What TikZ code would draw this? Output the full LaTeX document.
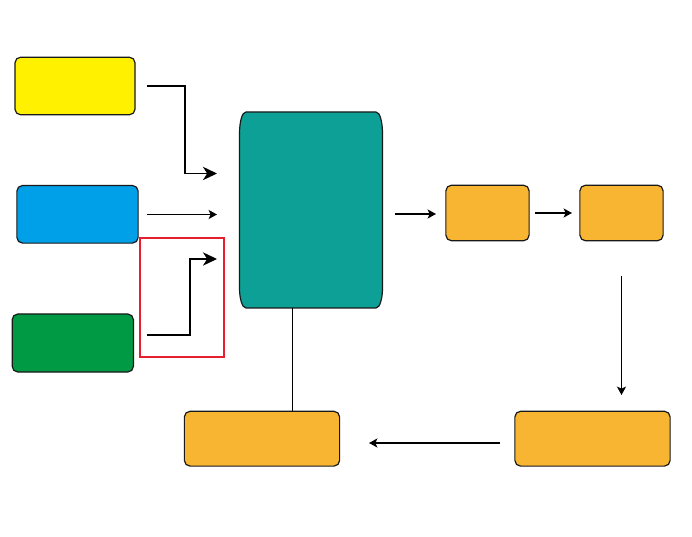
\documentclass[tikz,border=0pt]{standalone}
\usepackage{tikz}
\usetikzlibrary{arrows.meta}

\definecolor{boxyellow}{RGB}{255,241,0}
\definecolor{boxblue}{RGB}{0,160,233}
\definecolor{boxgreen}{RGB}{0,153,68}
\definecolor{boxteal}{RGB}{13,160,150}
\definecolor{boxorange}{RGB}{248,181,50}
\definecolor{framered}{RGB}{230,30,45}

\tikzset{
  stage/.style={draw=black!90,line width=0.85pt,rounded corners=4pt,inner sep=0pt},
  link/.style={line width=0.85pt,-{Stealth[length=6pt,width=6.5pt,inset=1.5pt]}},
  biglink/.style={line width=0.85pt,-{Stealth[length=10pt,width=9.5pt,inset=3pt]}}
}

\begin{document}
\begin{tikzpicture}[x=0.025cm,y=-0.025cm]
\useasboundingbox (0,0) rectangle (692,537);
% input boxes
\node[stage,fill=boxyellow,minimum width=3cm,minimum height=1.44cm] (yellowbox) at (75,86) {};
\node[stage,fill=boxblue,minimum width=3.03cm,minimum height=1.44cm] (bluebox) at (77.5,214.3) {};
\node[stage,fill=boxgreen,minimum width=3.03cm,minimum height=1.45cm] (greenbox) at (72.8,343) {};
% middle box
\draw[draw=black!90,line width=0.85pt,fill=boxteal] (246,112) -- (376,112)
  .. controls (380,112) and (382.5,122) .. (382.5,134) -- (382.5,288)
  .. controls (382.5,298) and (380,308) .. (376,308) -- (246,308)
  .. controls (242,308) and (239.5,298) .. (239.5,288) -- (239.5,134)
  .. controls (239.5,122) and (242,112) .. (246,112) -- cycle;
% output boxes
\node[stage,fill=boxorange,minimum width=2.08cm,minimum height=1.39cm] (outa) at (487.5,213) {};
\node[stage,fill=boxorange,minimum width=2.08cm,minimum height=1.39cm] (outb) at (621.5,213) {};
\node[stage,fill=boxorange,minimum width=3.88cm,minimum height=1.37cm] (outc) at (592.5,438.7) {};
\node[stage,fill=boxorange,minimum width=3.88cm,minimum height=1.37cm] (outd) at (262,438.7) {};
% red frame
\draw[framered,line width=1pt] (140,238) rectangle (224,357);
% free ends of the arrows
\coordinate (ya) at (147,86);
\coordinate (yb) at (217,173.5);
\coordinate (ba) at (147,214.5);
\coordinate (bb) at (217,214.5);
\coordinate (ga) at (147,335);
\coordinate (gb) at (217,259);
\coordinate (ma) at (395,214);
\coordinate (mb) at (436,214);
\coordinate (oa) at (535,213);
\coordinate (ob) at (572,213);
\coordinate (oc) at (621.5,276);
\coordinate (od) at (621.5,395);
\coordinate (oe) at (500,443);
\coordinate (of) at (369,443);
\coordinate (mfoot) at (292.5,308);
\coordinate (dtop) at (292.5,411.5);
% connectors
\draw[biglink] (ya) -| (185,173.5) -- (yb);
\draw[link] (ba) -- (bb);
\draw[biglink] (ga) -| (190,259) -- (gb);
\draw[link] (ma) -- (mb);
\draw[link] (oa) -- (ob);
\draw[link] (oc) -- (od);
\draw[link] (oe) -- (of);
\draw[line width=0.85pt] (mfoot) -- (dtop);
\end{tikzpicture}
\end{document}
